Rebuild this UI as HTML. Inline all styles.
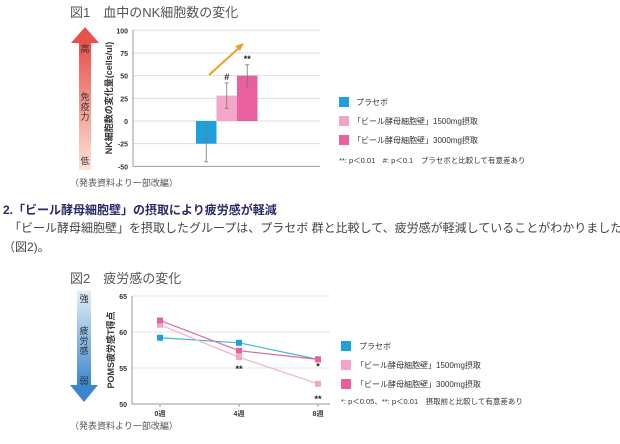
<!DOCTYPE html>
<html><head><meta charset="utf-8"><style>
body{margin:0;width:620px;height:444px;background:#fff;font-family:"Liberation Sans","Noto Sans CJK JP",sans-serif;color:#333;position:relative;overflow:hidden}
.t{position:absolute;white-space:nowrap}
svg{position:absolute;left:0;top:0}
</style></head><body>
<div class="t" style="left:70px;top:2px;font-size:13px;color:#555">図1　血中のNK細胞数の変化</div>
<div class="t" style="left:70px;top:176px;font-size:9px;color:#555">（発表資料より一部改編）</div>
<div class="t" style="left:3px;top:201px;font-size:12px;font-weight:bold;color:#2a2a6a">2.「ビール酵母細胞壁」の摂取により疲労感が軽減</div>
<div class="t" style="left:3px;top:219px;font-size:12px;color:#444;line-height:19px">　「ビール酵母細胞壁」を摂取したグループは、プラセボ 群と比較して、疲労感が軽減していることがわかりました<br>（図2)。</div>
<div class="t" style="left:70px;top:268px;font-size:13px;color:#555">図2　疲労感の変化</div>
<div class="t" style="left:70px;top:419px;font-size:9px;color:#555">（発表資料より一部改編）</div>
<svg width="620" height="444" id="s">
<defs>
<linearGradient id="g1" x1="0" y1="0" x2="0" y2="1"><stop offset="0" stop-color="#e8504a"/><stop offset="1" stop-color="#fde3d6"/></linearGradient>
<linearGradient id="g2" x1="0" y1="0" x2="0" y2="1"><stop offset="0" stop-color="#e4eef8"/><stop offset="1" stop-color="#3a86cc"/></linearGradient>
</defs>
<g>
<rect x="79" y="42" width="12" height="128" fill="url(#g1)"/><polygon points="71,43 85,27 99,43" fill="#e8504a"/>
<text x="85" y="52" font-size="9" text-anchor="middle" fill="#333">高</text>
<text x="85" y="100" font-size="9" text-anchor="middle" fill="#333">免</text>
<text x="85" y="110" font-size="9" text-anchor="middle" fill="#333">疫</text>
<text x="85" y="120" font-size="9" text-anchor="middle" fill="#333">力</text>
<text x="85" y="164" font-size="9" text-anchor="middle" fill="#333">低</text>
</g>
<g>
<rect x="77" y="291" width="14" height="95" fill="url(#g2)"/><polygon points="70,385 84,402 98,385" fill="#3a86cc"/>
<text x="84" y="302" font-size="9" text-anchor="middle" fill="#333">強</text>
<text x="84" y="334" font-size="9" text-anchor="middle" fill="#333">疲</text>
<text x="84" y="344" font-size="9" text-anchor="middle" fill="#333">労</text>
<text x="84" y="354" font-size="9" text-anchor="middle" fill="#333">感</text>
<text x="84" y="384" font-size="9" text-anchor="middle" fill="#333">弱</text>
</g>
<text transform="translate(112,98) rotate(-90)" font-size="9" font-weight="bold" text-anchor="middle" fill="#333">NK細胞数の変化量(cells/ul)</text>
<text transform="translate(114,350) rotate(-90)" font-size="9" font-weight="bold" text-anchor="middle" fill="#333">POMS疲労感T得点</text>
<g id="c1"></g><g id="c2"></g>
<g font-size="8" fill="#333">
<rect x="339" y="97" width="10" height="10" fill="#1ea0dc"/><text x="356" y="105">プラセボ</text>
<rect x="339" y="116" width="10" height="10" fill="#f3a6c8"/><text x="353" y="124">「ビール酵母細胞壁」1500mg摂取</text>
<rect x="339" y="135" width="10" height="10" fill="#e9609e"/><text x="353" y="143">「ビール酵母細胞壁」3000mg摂取</text>
<text x="339" y="163" font-size="7.5">**: p＜0.01　#: p＜0.1　プラセボと比較して有意差あり</text>
</g>
<g font-size="8" fill="#333">
<rect x="341" y="341" width="10" height="10" fill="#1ea0dc"/><text x="359" y="349">プラセボ</text>
<rect x="341" y="360" width="10" height="10" fill="#f3a6c8"/><text x="356" y="368">「ビール酵母細胞壁」1500mg摂取</text>
<rect x="341" y="379" width="10" height="10" fill="#e9609e"/><text x="356" y="387">「ビール酵母細胞壁」3000mg摂取</text>
<text x="341" y="404" font-size="7.5">*: p＜0.05、**: p＜0.01　摂取前と比較して有意差あり</text>
</g>
</svg>
<script>
const ticks1=[100,75,50,25,0,-25,-50];
const groups1=["placebo","1500mg","3000mg"];
const values1=[-25,28,50];
const errs1=[20,14,12];
const marks1=["","#","**"];
const colors1=["#1ea0dc","#f3a6c8","#e9609e"];
const ticks2=[65,60,55,50];
const weeks2=["0週","4週","8週"];
const placebo2=[59.2,58.5,56.2];
const low2=[61.0,56.5,52.8];
const high2=[61.6,57.4,56.2];
const stars2=[["","",""],["","**","**"],["","","*"]];
const NS="http://www.w3.org/2000/svg";
function mk(p,t,a){const e=document.createElementNS(NS,t);for(const k in a)e.setAttribute(k,a[k]);p.appendChild(e);return e;}
const c1=document.getElementById('c1');
const y1=v=>121-(v)*0.907;
ticks1.forEach(t=>{
  const gl=mk(c1,'line',{x1:133,x2:320,y1:y1(t),y2:y1(t),stroke:t==-50?'#999':'#ddd','stroke-width':1});
  
  
  const tx=mk(c1,'text',{x:128,y:y1(t)+3,'font-size':7,'text-anchor':'end',fill:'#333','font-weight':'bold'});tx.textContent=t;
  
  
});
mk(c1,'line',{x1:133,x2:133,y1:y1(100),y2:y1(-50),stroke:'#999'});
const bx=i=>196+i*20.5;
values1.forEach((v,i)=>{
  const r=mk(c1,'rect',{x:bx(i),width:20.5,y:Math.min(y1(v),y1(0)),height:Math.abs(y1(v)-y1(0)),fill:colors1[i]});
  
  
  const cx=bx(i)+10.25;
  mk(c1,'line',{x1:cx,x2:cx,y1:y1(v+errs1[i]),y2:y1(v-errs1[i]),stroke:'#777','stroke-width':0.8});
  [v+errs1[i],v-errs1[i]].forEach(e=>mk(c1,'line',{x1:cx-2,x2:cx+2,y1:y1(e),y2:y1(e),stroke:'#777','stroke-width':0.8}));
  if(marks1[i]){const m=mk(c1,'text',{x:cx,y:y1(v+errs1[i])-3,'font-size':9,'text-anchor':'middle',fill:'#222','font-weight':'bold'});m.textContent=marks1[i];
  
  }
});
mk(c1,'line',{x1:209,y1:75,x2:240,y2:47,stroke:'#f0a020','stroke-width':2});
mk(c1,'polygon',{points:'244,43 235,46 240,51',fill:'#f0a020'});
const c2=document.getElementById('c2');
const y2=v=>404-(v-50)*7.2;
const x2=i=>160+i*79;
ticks2.forEach(t=>{
  const gl=mk(c2,'line',{x1:132,x2:330,y1:y2(t),y2:y2(t),stroke:t==50?'#999':'#e4e4e4'});
  
  
  const tx=mk(c2,'text',{x:127,y:y2(t)+3,'font-size':7,'text-anchor':'end',fill:'#333','font-weight':'bold'});tx.textContent=t;
  
  
});
mk(c2,'line',{x1:132,x2:132,y1:y2(65),y2:y2(50),stroke:'#999'});
weeks2.forEach((w,i)=>{
  mk(c2,'line',{x1:x2(i),x2:x2(i),y1:404,y2:407,stroke:'#999'});
  const tx=mk(c2,'text',{x:x2(i),y:416,'font-size':7,'text-anchor':'middle',fill:'#333','font-weight':'bold'});tx.textContent=w;
  
  
});
[[placebo2,'#3cb8d8','#1ea0dc','placebo'],[low2,'#f3b0cc','#f3a6c8','1500mg'],[high2,'#e06aa0','#e9609e','3000mg']].forEach(([d,lc,pc,n])=>{
  const pl=mk(c2,'polyline',{points:d.map((v,i)=>x2(i)+','+y2(v)).join(' '),fill:'none',stroke:lc,'stroke-width':1.2});
  
  
  d.forEach((v,i)=>{const p=mk(c2,'rect',{x:x2(i)-3,y:y2(v)-3,width:6,height:6,fill:pc});
  
  });
});
[[low2,1,'**'],[low2,2,'**'],[high2,2,'*']].forEach(([d,i,s])=>{
  const off=s=='*'?10:d===low2&&i==2?18:15;
  const t=mk(c2,'text',{x:x2(i),y:y2(d[i])+off,'font-size':9,'text-anchor':'middle',fill:'#222','font-weight':'bold'});t.textContent=s;
  
  
});
</script>
</body></html>
